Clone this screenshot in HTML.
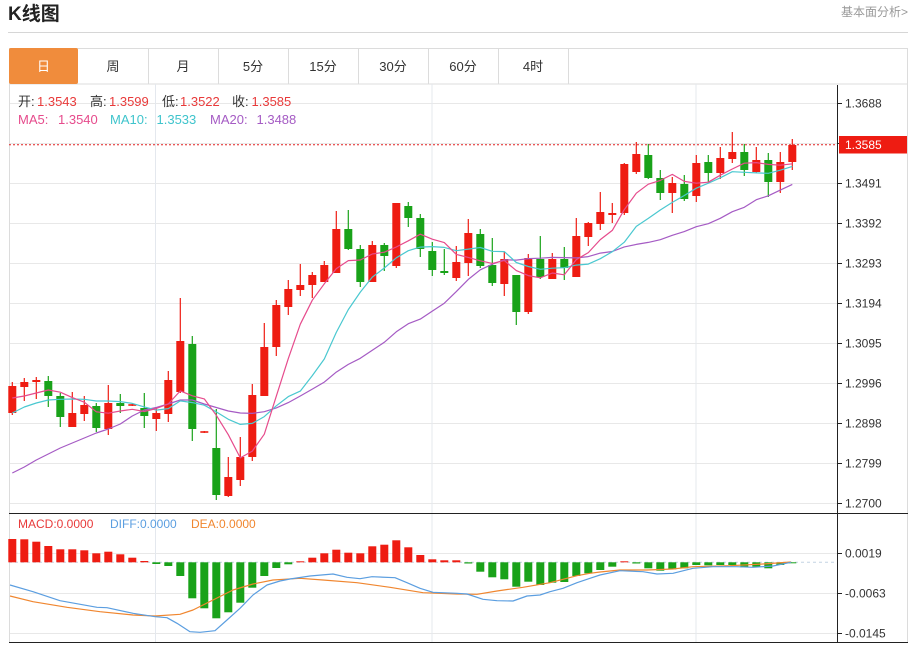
<!DOCTYPE html>
<html><head><meta charset="utf-8">
<style>
html,body{margin:0;padding:0;background:#fff;width:916px;height:645px;overflow:hidden}
svg{display:block;font-family:"Liberation Sans","Noto Sans CJK SC",sans-serif}
</style></head><body>
<svg id="s" width="916" height="645" viewBox="0 0 916 645" xmlns="http://www.w3.org/2000/svg">
<text x="8" y="20" font-size="19" font-weight="bold" fill="#222">K线图</text>
<text x="908" y="16" font-size="12" fill="#999" text-anchor="end">基本面分析&gt;</text>
<line x1="8" y1="32.5" x2="908" y2="32.5" stroke="#d6d6d6"/>
<rect x="9.5" y="48.5" width="898" height="35.5" fill="#fff" stroke="#dcdcdc"/>
<g stroke="#dcdcdc">
<line x1="148.5" y1="48" x2="148.5" y2="84"/>
<line x1="218.5" y1="48" x2="218.5" y2="84"/>
<line x1="288.5" y1="48" x2="288.5" y2="84"/>
<line x1="358.5" y1="48" x2="358.5" y2="84"/>
<line x1="428.5" y1="48" x2="428.5" y2="84"/>
<line x1="498.5" y1="48" x2="498.5" y2="84"/>
<line x1="568.5" y1="48" x2="568.5" y2="84"/>
</g>
<rect x="9" y="48" width="69" height="36" rx="2" fill="#f08c3c"/>
<g font-size="13" text-anchor="middle" fill="#333">
<text x="43.5" y="71" fill="#fff">日</text>
<text x="113" y="71">周</text>
<text x="183" y="71">月</text>
<text x="253" y="71">5分</text>
<text x="323" y="71">15分</text>
<text x="393" y="71">30分</text>
<text x="463" y="71">60分</text>
<text x="533" y="71">4时</text>
</g>
<g id="g"></g>
<g font-size="13">
<text x="18" y="106" fill="#333">开:</text><text x="37" y="106" fill="#e83a3a">1.3543</text>
<text x="90" y="106" fill="#333">高:</text><text x="109" y="106" fill="#e83a3a">1.3599</text>
<text x="162" y="106" fill="#333">低:</text><text x="180" y="106" fill="#e83a3a">1.3522</text>
<text x="232" y="106" fill="#333">收:</text><text x="251.5" y="106" fill="#e83a3a">1.3585</text>
<text x="18" y="124" fill="#e64b8c">MA5: </text><text x="58" y="124" fill="#e64b8c">1.3540</text>
<text x="110" y="124" fill="#3fc4cc">MA10: </text><text x="156.5" y="124" fill="#3fc4cc">1.3533</text>
<text x="210" y="124" fill="#a55bc4">MA20: </text><text x="256.5" y="124" fill="#a55bc4">1.3488</text>
</g>
<g font-size="12">
<text x="18" y="528" fill="#e83a3a">MACD:0.0000</text>
<text x="110" y="528" fill="#5b9ee0">DIFF:0.0000</text>
<text x="191" y="528" fill="#f0862f">DEA:0.0000</text>
</g>
<g font-size="12" fill="#333">
<text x="845" y="107.5">1.3688</text>
<text x="845" y="187.5">1.3491</text>
<text x="845" y="227.5">1.3392</text>
<text x="845" y="267.5">1.3293</text>
<text x="845" y="307.5">1.3194</text>
<text x="845" y="347.5">1.3095</text>
<text x="845" y="387.5">1.2996</text>
<text x="845" y="427.5">1.2898</text>
<text x="845" y="467.5">1.2799</text>
<text x="845" y="507.5">1.2700</text>
<text x="845" y="557.5">0.0019</text>
<text x="845" y="597.5">-0.0063</text>
<text x="845" y="637.5">-0.0145</text>
</g>
<rect x="839" y="136" width="68" height="17.5" fill="#ee1c12"/>
<text x="845" y="149" font-size="12" fill="#fff">1.3585</text>
</svg>
<script>
(function(){
var NS="http://www.w3.org/2000/svg";
var G=document.getElementById('g');
function el(t,a){var e=document.createElementNS(NS,t);for(var k in a)e.setAttribute(k,a[k]);G.appendChild(e);return e;}
// grid
var i;
for(i=0;i<=10;i++){var y=103.5+40*i;el('line',{x1:9,y1:y,x2:837,y2:y,stroke:'#e8e8e8'});}
[553.5,593.5,633.5].forEach(function(y){el('line',{x1:9,y1:y,x2:837,y2:y,stroke:'#e8e8e8'});});
[155.5,432,696].forEach(function(x){el('line',{x1:x,y1:84,x2:x,y2:643,stroke:'#e4e8ee'});});
// borders
el('line',{x1:9.5,y1:84,x2:9.5,y2:643,stroke:'#dcdcdc'});
el('line',{x1:907.5,y1:84,x2:907.5,y2:643,stroke:'#dcdcdc'});
el('line',{x1:9,y1:513.5,x2:908,y2:513.5,stroke:'#222'});
el('line',{x1:9,y1:642.5,x2:908,y2:642.5,stroke:'#222'});
el('line',{x1:837.5,y1:85,x2:837.5,y2:643,stroke:'#222'});
[103,143,183,223,263,303,343,383,423,463,503,553,593,633].forEach(function(y){el('line',{x1:837,y1:y+0.5,x2:842,y2:y+0.5,stroke:'#222'});});
var C=[[413,386,382,415],[387,382,378,401],[382,380,377,399],[381,396,376,407],[396,417,393,427],[427,413,392,427],[414,405,396,421],[406,428,403,432],[429,403,385,435],[403,406,394,413],
[405.5,404.5,404,406],[408,416,393,428],[419,413,407,431],[414,380,371,422],[392,341,298,393],[344,429,336,441],[432.5,431.5,431,433],[448,495,409,500],[496,477,457,497],[480,457,437,486],
[457,395,384,461],[396,347,323,396],[347,305,300,356],[307,289,280,315],[290,285,264,296],[285,275,272,298],[282,265,261,282],[273,229,211,273],[229,249,210,250],[249,282,245,287],
[282,245,241,282],[245,256,243,271],[266,203,203,268],[206,218,202,227],[218,249,214,257],[251,270,242,276],[271,273,249,275],[278,262,246,281],[263,233,219,276],[234,266,229,268],
[265,283,238,286],[284,259,252,296],[275,312,275,325],[312,258,254,314],[259,277,236,279],[279,259,253,279],[259,268,247,280],[277,236,218,277],[237,223,222,246],[224,212,192,230],
[215,213,203,223],[213,164,163,215],[172,154,142,174],[155,178,144,179],[178,193,170,200],[193,183,177,213],[184,199,175,201],[196,163,155,202],[162,173,155,182],[173,158,147,179],
[159,152,132,163],[152,170,144,176],[172,160,147,173],[160,182,153,197],[182,162,152,193],[162,145,139,170]];
var R="#ee1c12",GR="#19a219";
function cx(i){return 12.3+12*i;}
C.forEach(function(c,i){var x=cx(i),o=c[0],cl=c[1],h=c[2],l=c[3];var col=cl<=o?R:GR;
el('line',{x1:x,y1:h,x2:x,y2:l,stroke:col,'stroke-width':1.2});
var t=Math.min(o,cl),b=Math.max(o,cl);if(b-t<1.6){var m=(t+b)/2;t=m-0.8;b=m+0.8;}
el('rect',{x:x-4,y:t,width:8,height:b-t,fill:col});});
var cls=C.map(function(c){return c[1];});
function ma(n,early){return cls.map(function(v,i){if(i<n-1)return early[i];var s=0;for(var j=i-n+1;j<=i;j++)s+=cls[j];return s/n;});}
function pl(vals,col){var p=vals.map(function(v,i){return cx(i).toFixed(1)+','+v.toFixed(1);}).join(' ');el('polyline',{points:p,fill:'none',stroke:col,'stroke-width':1.2,'stroke-linejoin':'round'});}
pl(ma(20,[473,467,460,454,448,443,438,433,429,424,416,410,407.5,404,400,400,404,407.5,411]),'#a55bc4');
pl(ma(10,[413,407,403,400,399.3,399,399.3,401,401]),'#4ac8d0');
pl(ma(5,[398,396,393,390]),'#e64b8c');
el('line',{x1:9,y1:144.7,x2:837,y2:144.7,stroke:'#e02020','stroke-dasharray':'2,2'});
// MACD
el('line',{x1:9,y1:562.3,x2:837,y2:562.3,stroke:'#c4d4e4','stroke-dasharray':'3,3'});
var M=[539,539.3,541.7,546,549.3,549.3,550.3,553.3,551.7,554.3,557.7,561,564,566,576,598.3,608.3,618.3,612.3,602.7,587.7,576,568,564.3,561.3,557.7,553.3,549.7,552.7,553.3,546.3,544.7,540.3,547.3,555,559.3,560.3,560.3,563.5,571.7,577.3,579.3,586.7,581.7,585,582.7,582,576,573.3,570,566.7,561.3,563.5,568.3,570.7,569.3,568.3,565,565.3,565,565,567.3,566.7,568.3,565,563.3];
var Z=562.3;
M.forEach(function(v,i){var x=cx(i);if(v<Z){el('rect',{x:x-4,y:v,width:8,height:Z-v,fill:R});}else{el('rect',{x:x-4,y:Z,width:8,height:v-Z,fill:GR});}});
var DIFF=[[10,585],[33,591.7],[60,600.7],[97,607.3],[107,607.7],[133,613.3],[155,616.7],[167,617.7],[177,623.3],[190,631.7],[200,632.3],[215,630.7],[227,620],[240,608.3],[253,595],[267,585],[280,581],[290,579],[310,576],[333,574],[347,577.3],[360,578.7],[372,576.7],[395,577.7],[407,582.7],[420,588.3],[433,592.3],[457,593.3],[467,594],[483,599.3],[497,600.7],[513,601],[527,596],[540,595],[550,591.7],[563,588.3],[577,582.7],[590,578.3],[600,575],[620,570.7],[643,571.7],[657,574],[673,573.3],[693,568.3],[713,566.7],[737,566.7],[753,567.3],[773,566],[791,562.3]];
var DEA=[[10,596],[33,601.7],[67,607.3],[100,611.7],[133,615],[155,616],[180,614.3],[193,610],[213,600],[233,590],[253,584],[273,580],[300,578.3],[323,580],[357,582.7],[390,587.3],[423,592.7],[457,594],[477,594.3],[497,591],[523,587.3],[550,582.7],[577,575.7],[590,573.3],[600,572],[620,570],[647,570],[673,569],[693,566.7],[730,565.7],[763,564],[791,562]];
function pp(a,col){el('polyline',{points:a.map(function(p){return p[0]+','+p[1];}).join(' '),fill:'none',stroke:col,'stroke-width':1.2,'stroke-linejoin':'round'});}
pp(DEA,'#f0862f');
pp(DIFF,'#5b9ee0');
})();
</script>
</body></html>
